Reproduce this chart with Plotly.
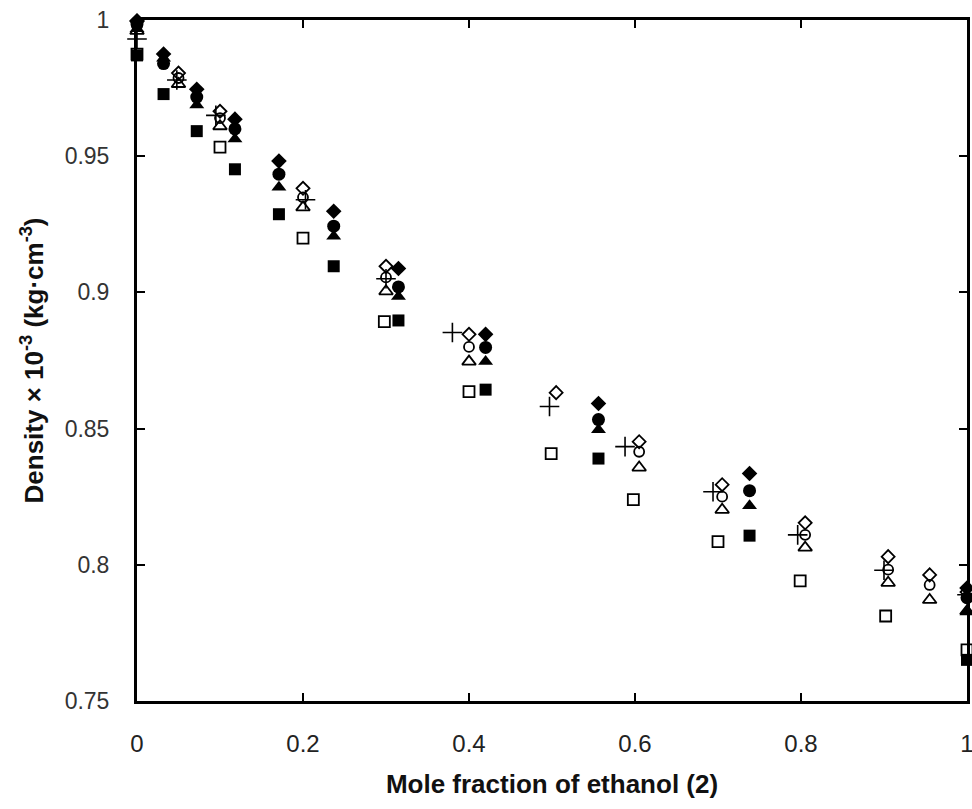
import plotly.graph_objects as go

# Mole fraction of ethanol for the filled-symbol series
x_filled = [0.0, 0.032, 0.072, 0.118, 0.171, 0.237, 0.315, 0.42, 0.556, 0.738, 1.0]
rho_diamond = [0.9997, 0.9875, 0.9746, 0.9636, 0.9482, 0.9298, 0.9088, 0.8846, 0.8592, 0.8335, 0.7915]
rho_circle = [0.9985, 0.9840, 0.9717, 0.9600, 0.9434, 0.9243, 0.9020, 0.8798, 0.8533, 0.8272, 0.7879]
rho_triangle = [0.9968, 0.9860, 0.9688, 0.9563, 0.9386, 0.9206, 0.8985, 0.8746, 0.8496, 0.8217, 0.7827]
rho_square = [0.9870, 0.9728, 0.9592, 0.9452, 0.9287, 0.9096, 0.8897, 0.8643, 0.8390, 0.8107, 0.7651]

# Mole fraction of ethanol for the open-symbol series
x_open = [0.0, 0.05, 0.1, 0.2, 0.3, 0.4, 0.505, 0.605, 0.705, 0.805, 0.905, 0.955, 1.0]
rho_diamond_open = [0.9995, 0.9805, 0.9665, 0.9382, 0.9096, 0.8846, 0.8632, 0.8452, 0.8294, 0.8154, 0.8030, 0.7963, 0.7900]
rho_circle_open = [0.9980, 0.9787, 0.9640, 0.9349, 0.9055, 0.8800, None, 0.8415, 0.8250, 0.8110, 0.7982, 0.7926, 0.7880]
rho_triangle_open = [0.9960, 0.9765, 0.9610, 0.9312, 0.9004, 0.8746, None, 0.8357, 0.8202, 0.8063, 0.7934, 0.7871, 0.7830]

x_square_open = [0.0, 0.1, 0.2, 0.298, 0.4, 0.499, 0.598, 0.7, 0.799, 0.902, 1.0]
rho_square_open = [0.9875, 0.9533, 0.9199, 0.8893, 0.8636, 0.8408, 0.8239, 0.8085, 0.7941, 0.7812, 0.7688]

x_plus = [0.0, 0.048, 0.095, 0.203, 0.3, 0.38, 0.497, 0.588, 0.694, 0.796, 0.9, 1.0]
rho_plus = [0.9930, 0.9780, 0.9650, 0.9340, 0.9050, 0.8853, 0.8581, 0.8434, 0.8268, 0.8110, 0.7980, 0.7890]

x_ticks = [0, 0.2, 0.4, 0.6, 0.8, 1]
x_tick_text = ["0", "0.2", "0.4", "0.6", "0.8", "1"]
y_ticks = [0.75, 0.8, 0.85, 0.9, 0.95, 1.0]
y_tick_text = ["0.75", "0.8", "0.85", "0.9", "0.95", "1"]

BLACK = "#000000"

fig = go.Figure()


def add_series(xs, ys, symbol, size, line_width=0):
    fig.add_trace(go.Scatter(
        x=xs, y=ys, mode="markers", cliponaxis=False, showlegend=False,
        marker=dict(symbol=symbol, size=size, color=BLACK,
                    line=dict(color=BLACK, width=line_width)),
    ))


# Open symbols first, filled symbols on top
add_series(x_square_open, rho_square_open, "square-open", 11, 1.8)
add_series(x_open, rho_triangle_open, "triangle-up-open", 12, 1.8)
add_series(x_open, rho_circle_open, "circle-open", 10, 1.8)
add_series(x_open, rho_diamond_open, "diamond-open", 10, 1.8)
add_series(x_plus, rho_plus, "cross-thin-open", 14, 1.6)

add_series(x_filled, rho_square, "square", 12)
add_series(x_filled, rho_triangle, "triangle-up", 13)
add_series(x_filled, rho_circle, "circle", 13)
add_series(x_filled, rho_diamond, "diamond", 12)

axis_common = dict(
    showline=True, linecolor=BLACK, linewidth=3, mirror="ticks",
    ticks="inside", ticklen=8, tickwidth=2, tickcolor=BLACK,
    showgrid=False, zeroline=False, automargin=False,
    ticklabeloverflow="allow",
)

fig.update_layout(
    width=972, height=809,
    margin=dict(l=137, r=5, t=20, b=108),
    plot_bgcolor="white", paper_bgcolor="white",
    font=dict(family="Liberation Sans, Arial, sans-serif", color="#222222"),
    xaxis=dict(
        range=[0, 1], tickvals=x_ticks, ticktext=x_tick_text,
        tickfont=dict(size=24, color="#222222"),
        ticklabelstandoff=19,
        title=dict(text="<b>Mole fraction of ethanol (2)</b>",
                   font=dict(size=26, color="#111111"), standoff=20),
        **axis_common,
    ),
    yaxis=dict(
        range=[0.75, 1.0], tickvals=y_ticks, ticktext=y_tick_text,
        tickfont=dict(size=23, color="#333333"),
        ticklabelstandoff=20,
        title=dict(text="<b>Density × 10<sup>-3</sup> (kg·cm<sup>-3</sup>)</b>",
                   font=dict(size=26, color="#111111"), standoff=14),
        **axis_common,
    ),
)

fig.write_html("out.html")
